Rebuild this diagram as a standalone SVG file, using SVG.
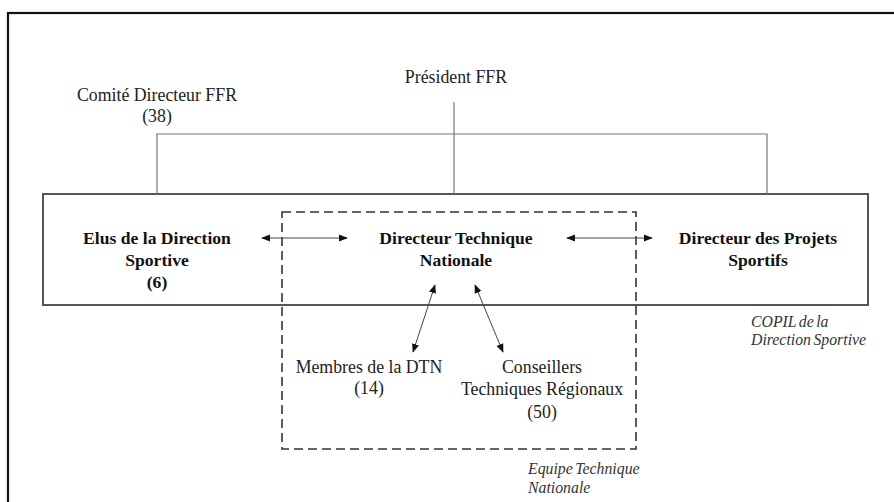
<svg xmlns="http://www.w3.org/2000/svg" width="894" height="502" viewBox="0 0 894 502">
<style>
.t,.b,.i{font-family:'Liberation Serif',Tinos,'Times New Roman',Times,'DejaVu Serif',serif}
.t{font-size:17.8px;fill:#222;text-anchor:middle}
.b{font-size:17.6px;font-weight:bold;fill:#111;text-anchor:middle}
.i{font-size:15.8px;font-style:italic;fill:#333;word-spacing:-1.5px}
.c{stroke:#777;stroke-width:1.2;fill:none}
.a{stroke:#444;stroke-width:1;fill:none;marker-start:url(#ah);marker-end:url(#ah)}
</style>
<defs>
<marker id="ah" viewBox="0 0 10 10" refX="9" refY="5" markerWidth="9" markerHeight="9" markerUnits="userSpaceOnUse" orient="auto-start-reverse">
<path d="M0,1 L10,5 L0,9 z" fill="#111"/>
</marker>
</defs>
<rect width="894" height="502" fill="#fff"/>
<rect x="8" y="13" width="900" height="500" fill="none" stroke="#111" stroke-width="2.2"/>
<g id="copil">
<rect x="43" y="194" width="825" height="111" fill="none" stroke="#555" stroke-width="2"/>
<text class="i" x="751" y="327">COPIL de la</text>
<text class="i" x="751" y="345">Direction Sportive</text>
</g>
<g id="etn">
<rect x="282" y="212" width="354" height="237" fill="none" stroke="#333" stroke-width="1.6" stroke-dasharray="9,5"/>
<text class="i" x="528" y="474">Equipe Technique</text>
<text class="i" x="528" y="493">Nationale</text>
</g>
<g id="connectors">
<path class="c" d="M157,194 V134 H767 V194 M454,102 V194"/>
<line class="a" x1="262" y1="238" x2="347" y2="238"/>
<line class="a" x1="567" y1="238" x2="652" y2="238"/>
<line class="a" x1="435" y1="285" x2="413" y2="352"/>
<line class="a" x1="475" y1="285" x2="503" y2="352"/>
</g>
<g id="president"><text class="t" x="456" y="83">Président FFR</text></g>
<g id="comite"><text class="t" x="157" y="101">Comité Directeur FFR</text><text class="t" x="157" y="122">(38)</text></g>
<g id="elus"><text class="b" x="157" y="244">Elus de la Direction</text><text class="b" x="157" y="266">Sportive</text><text class="b" x="157" y="288">(6)</text></g>
<g id="dtn"><text class="b" x="456" y="244">Directeur Technique</text><text class="b" x="456" y="266">Nationale</text></g>
<g id="dps"><text class="b" x="758" y="244">Directeur des Projets</text><text class="b" x="758" y="266">Sportifs</text></g>
<g id="membres"><text class="t" x="369" y="373">Membres de la DTN</text><text class="t" x="369" y="394">(14)</text></g>
<g id="ctr"><text class="t" x="542" y="373">Conseillers</text><text class="t" x="542" y="395">Techniques Régionaux</text><text class="t" x="542" y="418">(50)</text></g>
</svg>
